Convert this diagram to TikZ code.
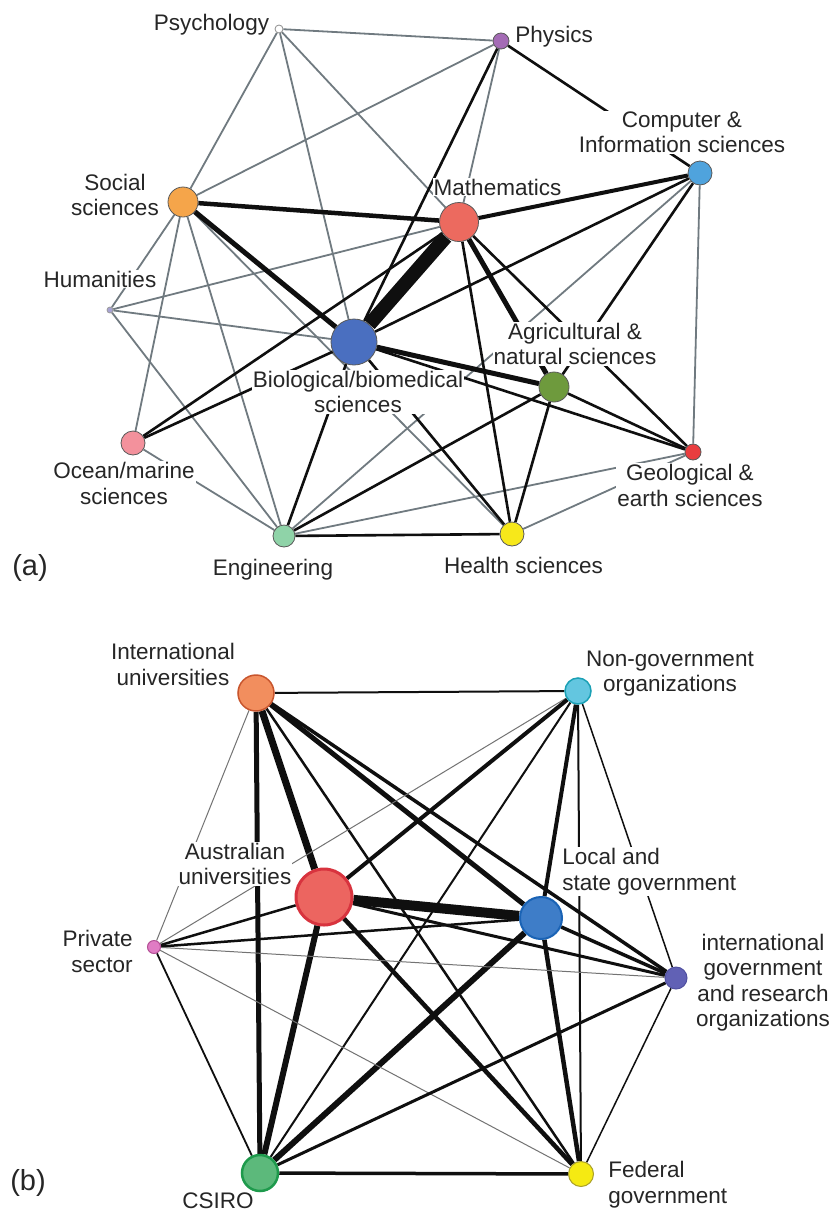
\documentclass[tikz,border=0pt]{standalone}
\usepackage{fontspec}
\setmainfont{Liberation Sans}
\pgfdeclarelayer{edgelayer}
\pgfdeclarelayer{labellayer}
\pgfsetlayers{edgelayer,labellayer,main}
\definecolor{eg}{RGB}{112,122,128}
\definecolor{ek}{RGB}{15,15,15}
\definecolor{cphy}{RGB}{164,107,181}
\definecolor{ccomp}{RGB}{79,163,221}
\definecolor{csoc}{RGB}{245,165,74}
\definecolor{cmath}{RGB}{236,106,95}
\definecolor{chum}{RGB}{167,163,211}
\definecolor{cbio}{RGB}{74,111,192}
\definecolor{cagri}{RGB}{110,154,61}
\definecolor{cocean}{RGB}{243,145,156}
\definecolor{cgeo}{RGB}{233,61,63}
\definecolor{ceng}{RGB}{143,211,168}
\definecolor{chealth}{RGB}{247,232,26}
\definecolor{ciu}{RGB}{242,142,94}
\definecolor{diu}{RGB}{200,85,45}
\definecolor{cngo}{RGB}{99,198,224}
\definecolor{dngo}{RGB}{26,160,181}
\definecolor{cau}{RGB}{236,101,96}
\definecolor{dau}{RGB}{216,51,62}
\definecolor{clsg}{RGB}{62,125,200}
\definecolor{dlsg}{RGB}{26,99,181}
\definecolor{cps}{RGB}{224,124,196}
\definecolor{dps}{RGB}{180,80,150}
\definecolor{cigo}{RGB}{97,97,181}
\definecolor{digo}{RGB}{80,80,160}
\definecolor{ccs}{RGB}{92,185,123}
\definecolor{dcs}{RGB}{30,154,76}
\definecolor{cfg}{RGB}{245,234,18}
\definecolor{dfg}{RGB}{170,160,40}
\begin{document}
\begin{tikzpicture}[x=1pt,y=-1pt,
  nd/.style={circle,inner sep=0pt,draw=black!65,line width=0.8pt},
  lab/.style={fill=white,inner sep=1.2pt,text=black!85,font=\fontsize{22.5}{25.5}\selectfont,align=center},
  panel/.style={inner sep=0pt,text=black!85,font=\fontsize{29}{32}\selectfont},
  ge/.style={draw=eg,line width=1.8pt},
  be/.style={draw=ek,line width=2.6pt},
  bk/.style={draw=ek},
  tg/.style={draw=black!55,line width=1pt}]
\useasboundingbox (0,0) rectangle (838,1213);
% ---------- (a) nodes
\node[nd,minimum size=8pt,fill=white,draw=black!45] (psy) at (279,29) {};
\node[nd,minimum size=16pt,fill=cphy] (phy) at (501,41) {};
\node[nd,minimum size=24pt,fill=ccomp] (comp) at (700,173) {};
\node[nd,minimum size=30pt,fill=csoc] (soc) at (183,202) {};
\node[nd,minimum size=39pt,fill=cmath] (math) at (459,222) {};
\node[nd,minimum size=6pt,fill=chum,draw=black!40] (hum) at (110,310) {};
\node[nd,minimum size=46pt,fill=cbio] (bio) at (354,342) {};
\node[nd,minimum size=30pt,fill=cagri] (agri) at (554,387) {};
\node[nd,minimum size=24pt,fill=cocean] (ocean) at (133,443) {};
\node[nd,minimum size=16pt,fill=cgeo] (geo) at (693,452) {};
\node[nd,minimum size=22pt,fill=ceng] (eng) at (284,536) {};
\node[nd,minimum size=24pt,fill=chealth] (health) at (512,534) {};
% ---------- (b) nodes
\node[nd,minimum size=36pt,fill=ciu,draw=diu,line width=1.5pt] (iu) at (256,693) {};
\node[nd,minimum size=26pt,fill=cngo,draw=dngo,line width=1.5pt] (ngo) at (578,691) {};
\node[nd,minimum size=56pt,fill=cau,draw=dau,line width=3pt] (au) at (324,897) {};
\node[nd,minimum size=42pt,fill=clsg,draw=dlsg,line width=2pt] (lsg) at (541,918) {};
\node[nd,minimum size=13pt,fill=cps,draw=dps,line width=1pt] (ps) at (154,947) {};
\node[nd,minimum size=22pt,fill=cigo,draw=digo,line width=1pt] (igo) at (676,978) {};
\node[nd,minimum size=36pt,fill=ccs,draw=dcs,line width=2.5pt] (cs) at (260,1173) {};
\node[nd,minimum size=25pt,fill=cfg,draw=dfg,line width=1pt] (fg) at (581,1174) {};
% ---------- labels
\begin{pgfonlayer}{labellayer}
\node[lab,anchor=base] (psyL) at (211.5,30) {Psychology};
\node[lab,anchor=base west] (phyL) at (514,42) {Physics};
\node[lab] (compL) at (682,132.5) {Computer \&\\Information sciences};
\node[lab] (socL) at (115,195) {Social\\sciences};
\node[lab,anchor=base] (mathL) at (497.5,195) {Mathematics};
\node[lab,anchor=base] (humL) at (100,287) {Humanities};
\node[lab] (bioL) at (358,392) {Biological/biomedical\\sciences};
\node[lab] (agriL) at (575,344) {Agricultural \&\\natural sciences};
\node[lab] (oceanL) at (124,483.5) {Ocean/marine\\sciences};
\node[lab] (geoL) at (690,485.5) {Geological \&\\earth sciences};
\node[lab,anchor=base] (engL) at (273,575) {Engineering};
\node[lab,anchor=base] (healthL) at (523.5,573) {Health sciences};
\node[panel,anchor=base] (aL) at (30,575) {(a)};
\node[lab] (iuL) at (173,664.5) {International\\universities};
\node[lab] (ngoL) at (670,673.6) {Non-government\\organizations};
\node[lab] (auL) at (235,864) {Australian\\universities};
\node[lab,anchor=west,align=left] (lsgL) at (561,871.6) {Local and\\state government};
\node[lab,anchor=east,align=right] (psL) at (134,951.5) {Private\\sector};
\node[lab] (igoL) at (763,982.6) {international\\government\\and research\\organizations};
\node[lab,anchor=west,align=left] (fgL) at (607,1184.7) {Federal\\government};
\node[lab,anchor=base] (csL) at (218,1208) {CSIRO};
\node[panel,anchor=base] (bL) at (28,1190) {(b)};
\end{pgfonlayer}
% ---------- edges
\begin{pgfonlayer}{edgelayer}
\fill[white] (0,0) rectangle (838,1213);
% (a) gray
\draw[ge] (psy) -- (phy);
\draw[ge] (psy) -- (soc);
\draw[ge] (psy) -- (bio);
\draw[ge] (psy) -- (math);
\draw[ge] (phy) -- (soc);
\draw[ge] (phy) -- (math);
\draw[ge] (soc) -- (hum);
\draw[ge] (soc) -- (ocean);
\draw[ge] (soc) -- (eng);
\draw[ge] (soc) -- (health);
\draw[ge] (hum) -- (math);
\draw[ge] (hum) -- (bio);
\draw[ge] (hum) -- (eng);
\draw[ge] (ocean) -- (eng);
\draw[ge] (comp) -- (eng);
\draw[ge] (comp) -- (geo);
\draw[ge] (eng) -- (geo);
\draw[ge] (health) -- (geo);
% (a) black
\draw[be] (phy) -- (comp);
\draw[be] (phy) -- (bio);
\draw[be] (comp) -- (bio);
\draw[be] (comp) -- (agri);
\draw[be] (ocean) -- (math);
\draw[be] (ocean) -- (bio);
\draw[be] (eng) -- (bio);
\draw[be] (eng) -- (agri);
\draw[be] (eng) -- (health);
\draw[be] (health) -- (math);
\draw[be] (health) -- (agri);
\draw[be] (health) -- (bio);
\draw[be] (agri) -- (geo);
\draw[be] (bio) -- (geo);
\draw[be] (math) -- (geo);
% (a) thick
\draw[bk,line width=14pt] (bio) -- (math);
\draw[bk,line width=4.5pt] (soc) -- (math);
\draw[bk,line width=5pt] (soc) -- (bio);
\draw[bk,line width=4pt] (comp) -- (math);
\draw[bk,line width=5pt] (math) -- (agri);
\draw[bk,line width=5pt] (bio) -- (agri);
% (b)
\draw[bk,line width=2pt] (iu) -- (ngo);
\draw[tg] (iu) -- (ps);
\draw[bk,line width=7pt] (iu) -- (au);
\draw[bk,line width=5pt] (iu) -- (lsg);
\draw[bk,line width=3.5pt] (iu) -- (igo);
\draw[bk,line width=5pt] (iu) -- (cs);
\draw[bk,line width=2.5pt] (iu) -- (fg);
\draw[tg] (ngo) -- (ps);
\draw[bk,line width=4pt] (ngo) -- (au);
\draw[bk,line width=4pt] (ngo) -- (lsg);
\draw[bk,line width=2pt] (ngo) -- (cs);
\draw[bk,line width=2pt] (ngo) -- (fg);
\draw[bk,line width=1.5pt] (ngo) -- (igo);
\draw[bk,line width=10pt] (au) -- (lsg);
\draw[bk,line width=2.5pt] (au) -- (ps);
\draw[bk,line width=6pt] (au) -- (cs);
\draw[bk,line width=4.5pt] (au) -- (fg);
\draw[bk,line width=3pt] (au) -- (igo);
\draw[bk,line width=2.5pt] (lsg) -- (ps);
\draw[bk,line width=6pt] (lsg) -- (cs);
\draw[bk,line width=4.5pt] (lsg) -- (fg);
\draw[bk,line width=3.5pt] (lsg) -- (igo);
\draw[tg] (ps) -- (igo);
\draw[bk,line width=1.8pt] (ps) -- (cs);
\draw[tg] (ps) -- (fg);
\draw[bk,line width=3pt] (igo) -- (cs);
\draw[bk,line width=1.5pt] (igo) -- (fg);
\draw[bk,line width=3.5pt] (cs) -- (fg);
\end{pgfonlayer}
\end{tikzpicture}
\end{document}
